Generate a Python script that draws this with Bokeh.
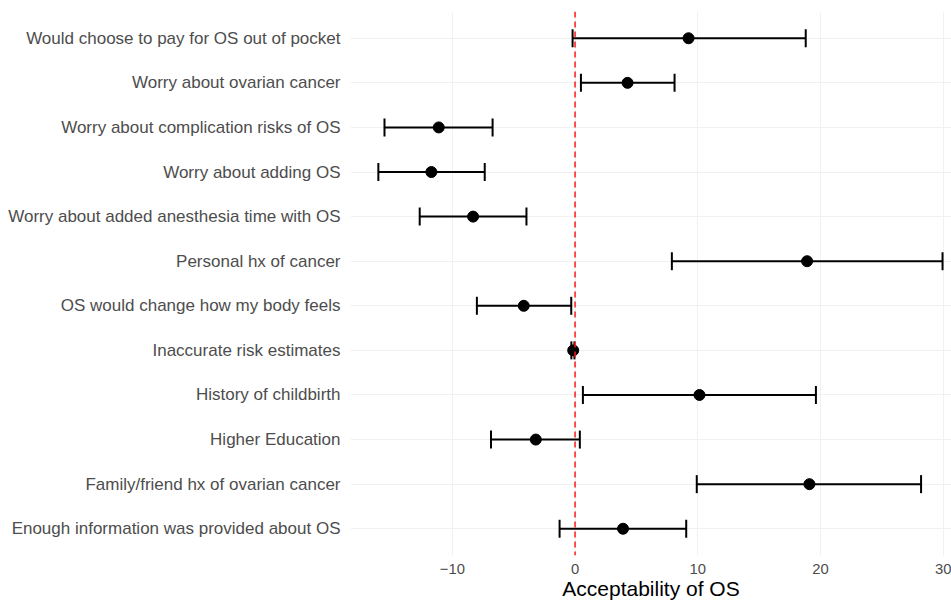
from bokeh.plotting import figure
from bokeh.models import (ColumnDataSource, Whisker, TeeHead, Span, FactorRange,
                          Range1d, FixedTicker)
from bokeh.embed import file_html
from bokeh.resources import INLINE

# ---- data (top row first) ----
labels = [
    "Would choose to pay for OS out of pocket",
    "Worry about ovarian cancer",
    "Worry about complication risks of OS",
    "Worry about adding OS",
    "Worry about added anesthesia time with OS",
    "Personal hx of cancer",
    "OS would change how my body feels",
    "Inaccurate risk estimates",
    "History of childbirth",
    "Higher Education",
    "Family/friend hx of ovarian cancer",
    "Enough information was provided about OS",
]
estimates = [9.25, 4.28, -11.11, -11.71, -8.31, 18.91, -4.18, -0.15, 10.14, -3.2, 19.1, 3.91]
lower = [-0.2, 0.48, -15.53, -16.03, -12.66, 7.89, -8.0, -0.3, 0.64, -6.85, 9.92, -1.26]
upper = [18.8, 8.11, -6.72, -7.36, -3.96, 29.95, -0.31, -0.05, 19.63, 0.39, 28.2, 9.06]
x_ticks = [-10, 0, 10, 20, 30]
x_title = "Acceptability of OS"

src = ColumnDataSource(dict(label=labels, est=estimates, lo=lower, hi=upper))

p = figure(width=951, height=604,
           x_range=Range1d(-18.3, 30.68),
           y_range=FactorRange(factors=labels[::-1], range_padding=0.1,
                               range_padding_units="absolute"),
           output_backend="svg", toolbar_location=None,
           min_border_left=350, min_border_right=0, min_border_top=11,
           min_border_bottom=49)

p.outline_line_color = None
p.background_fill_color = "white"
p.border_fill_color = "white"

# grid
p.xgrid.ticker = FixedTicker(ticks=x_ticks)
p.xgrid.grid_line_color = "#F1F1F1"
p.ygrid.grid_line_color = "#F1F1F1"

# axes
p.xaxis.ticker = FixedTicker(ticks=x_ticks)
for ax in (p.xaxis[0], p.yaxis[0]):
    ax.axis_line_color = None
    ax.major_tick_line_color = None
    ax.minor_tick_line_color = None
    ax.major_tick_out = 0
    ax.major_tick_in = 0
    ax.major_label_text_font = "Liberation Sans"
    ax.major_label_text_color = "#4D4D4D"
p.yaxis.major_label_text_font_size = "17px"
p.yaxis.major_label_standoff = 10
p.xaxis.major_label_text_font_size = "14.8px"
p.xaxis.major_label_standoff = 8
p.xaxis.axis_label = x_title
p.xaxis.axis_label_text_font = "Liberation Sans"
p.xaxis.axis_label_text_font_size = "21px"
p.xaxis.axis_label_text_font_style = "normal"
p.xaxis.axis_label_text_color = "black"
p.xaxis.axis_label_standoff = 0

# reference line at 0
p.add_layout(Span(location=0, dimension="height", line_color="#FF1A1A",
                  line_dash="6 4", line_width=1.5))

# error bars
wh = Whisker(base="label", lower="lo", upper="hi", dimension="width", source=src,
             line_color="black", line_width=2,
             upper_head=TeeHead(size=18, line_color="black", line_width=2),
             lower_head=TeeHead(size=18, line_color="black", line_width=2))
p.add_layout(wh)

p.scatter(x="est", y="label", source=src, size=11, color="black")

open("out.html", "w").write(file_html(p, INLINE))
